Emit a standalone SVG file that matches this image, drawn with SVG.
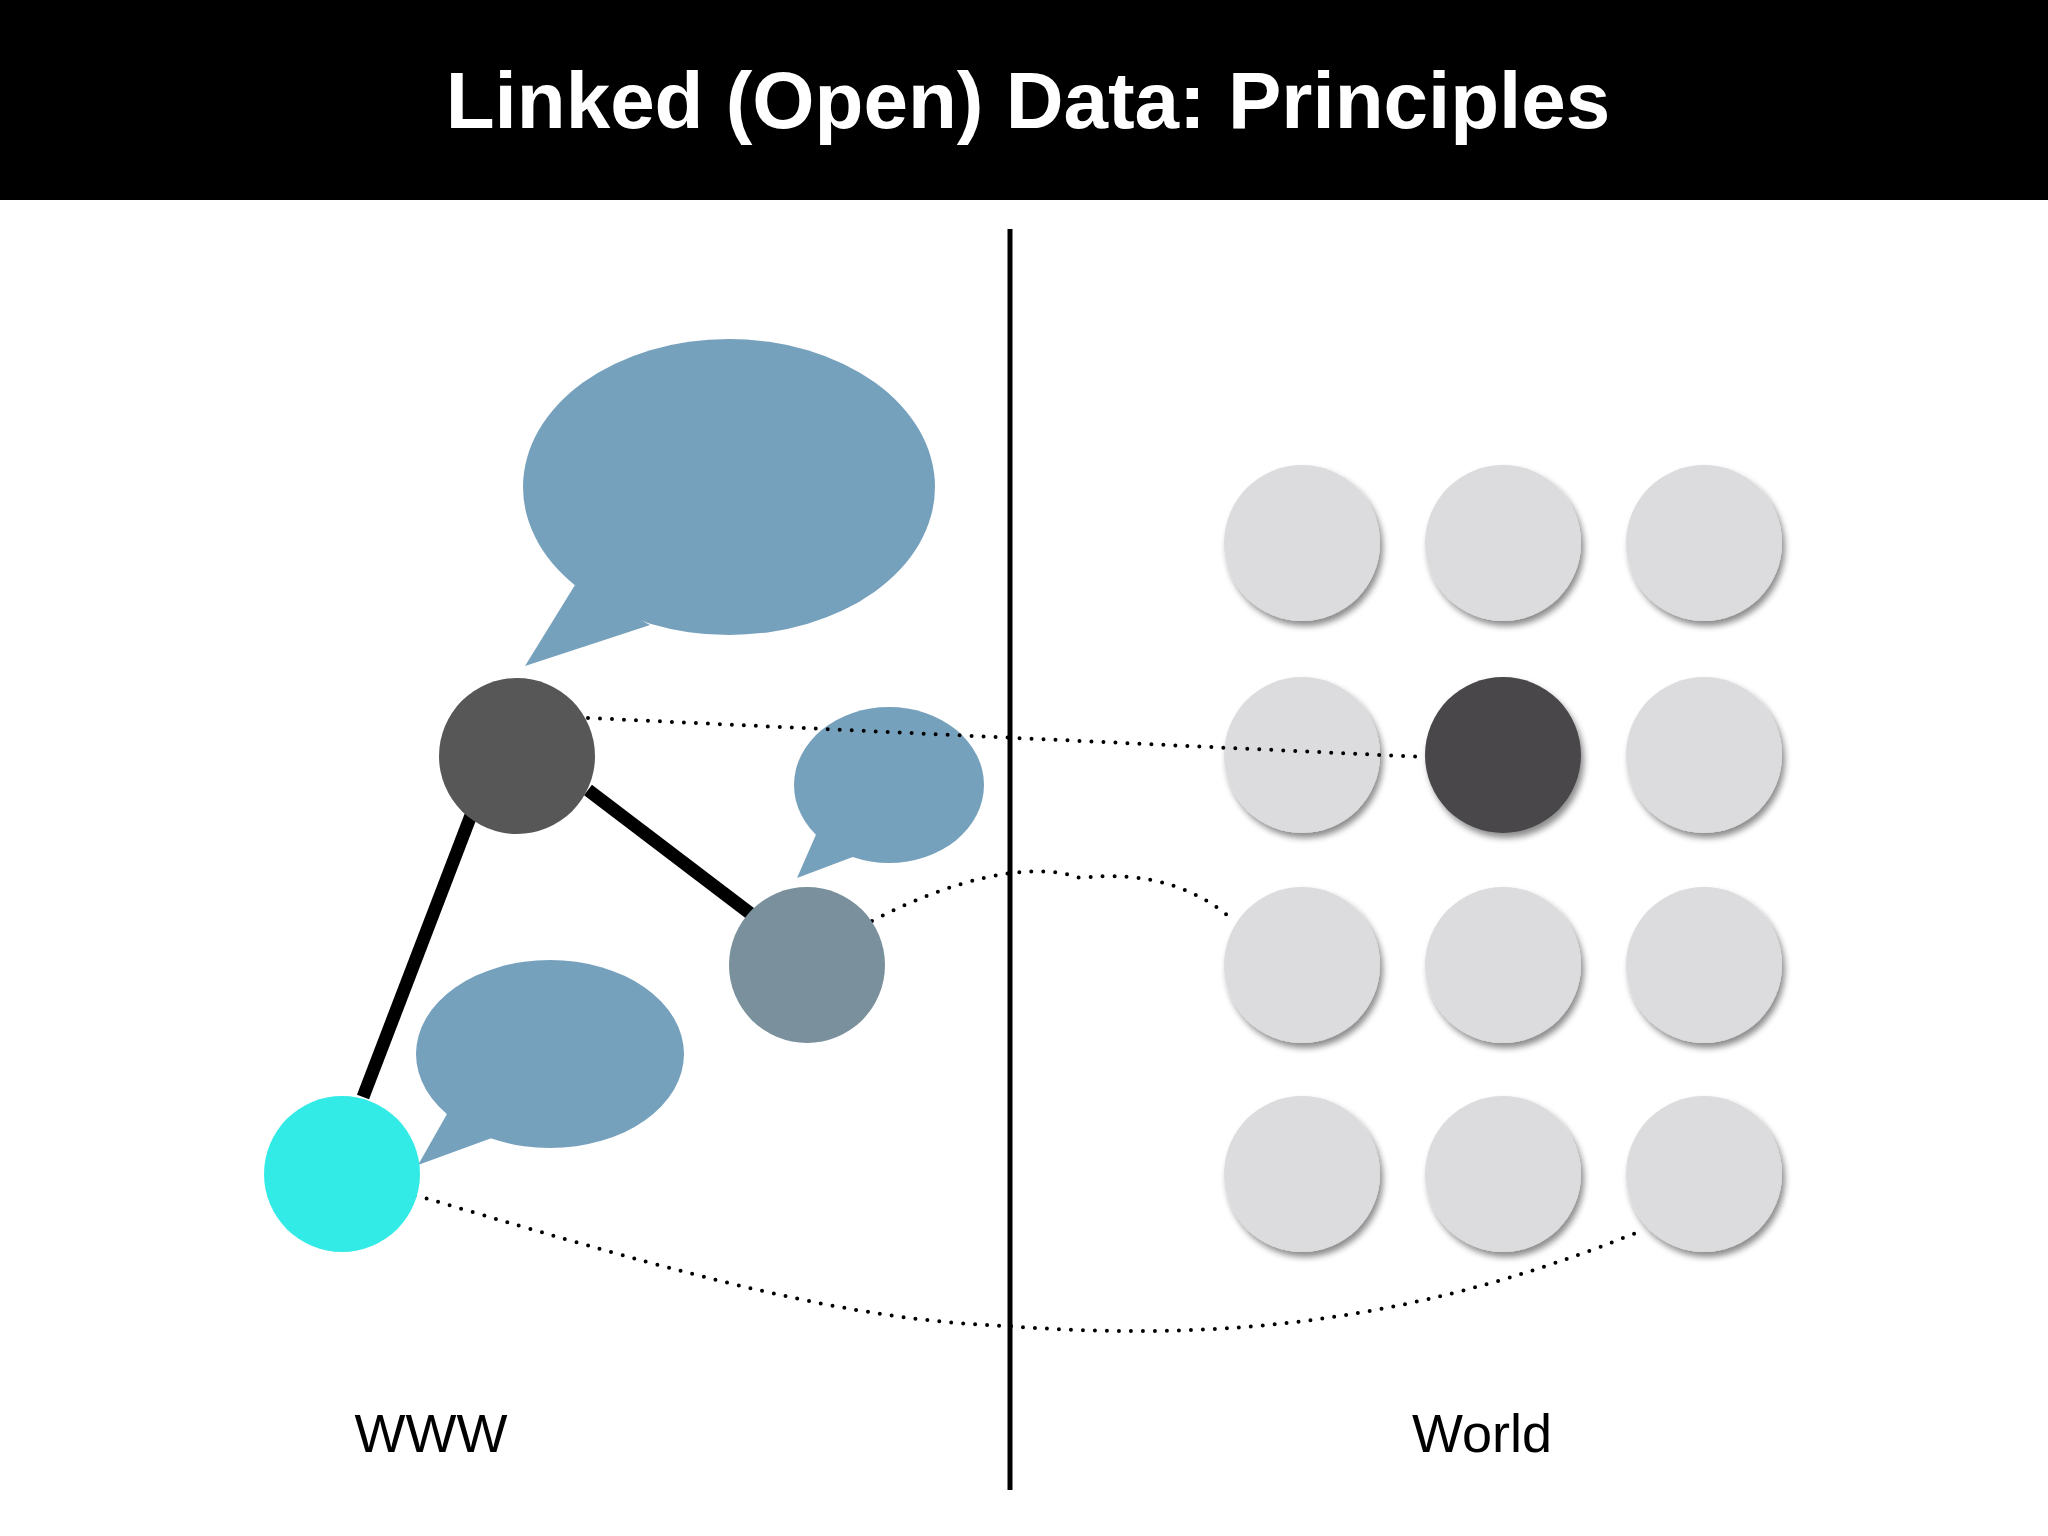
<svg xmlns="http://www.w3.org/2000/svg" width="2048" height="1536" viewBox="0 0 2048 1536">
<defs>
<filter id="sh" x="-30%" y="-30%" width="160%" height="160%"><feDropShadow dx="3" dy="5" stdDeviation="3" flood-color="#000" flood-opacity="0.45"/></filter>
<style>
.bub{fill:#76a1bd}
.cell{fill:#dcdcde;filter:url(#sh)}
.dot{fill:none;stroke:#000;stroke-width:4;stroke-dasharray:0 12;stroke-linecap:round}
.lbl{font-family:"Liberation Sans",Arial,sans-serif;font-size:54px;fill:#000;text-anchor:middle}
</style>
</defs>
<rect width="2048" height="1536" fill="#fff"/>
<rect width="2048" height="200" fill="#000"/>
<text x="1028" y="128" font-family="Liberation Sans,Arial,sans-serif" font-weight="bold" font-size="80" fill="#fff" text-anchor="middle">Linked (Open) Data: Principles</text>
<line x1="1010" y1="229" x2="1010" y2="1490" stroke="#000" stroke-width="5"/>
<g id="bubbles">
<ellipse class="bub" cx="729" cy="487" rx="206" ry="148"/><polygon class="bub" points="575,585 525,666 650,625"/>
<ellipse class="bub" cx="889" cy="785" rx="95" ry="78"/><polygon class="bub" points="818,830 797,878 866,852"/>
<ellipse class="bub" cx="550" cy="1054" rx="134" ry="94"/><polygon class="bub" points="455,1100 418,1165 500,1135"/>
</g>
<g id="grid">
<circle class="cell" cx="1302" cy="543" r="78"/><circle class="cell" cx="1503" cy="543" r="78"/><circle class="cell" cx="1704" cy="543" r="78"/>
<circle class="cell" cx="1302" cy="755" r="78"/><circle cx="1503" cy="755" r="78" fill="#48474a" filter="url(#sh)"/><circle class="cell" cx="1704" cy="755" r="78"/>
<circle class="cell" cx="1302" cy="965" r="78"/><circle class="cell" cx="1503" cy="965" r="78"/><circle class="cell" cx="1704" cy="965" r="78"/>
<circle class="cell" cx="1302" cy="1174" r="78"/><circle class="cell" cx="1503" cy="1174" r="78"/><circle class="cell" cx="1704" cy="1174" r="78"/>
</g>
<g id="connectors">
<line x1="588" y1="790" x2="751" y2="914" stroke="#000" stroke-width="13"/>
<line x1="473" y1="810" x2="363" y2="1097" stroke="#000" stroke-width="13"/>
<path class="dot" d="M588,718 L1424,757"/>
<path class="dot" d="M872,921 C950,880 1030,860 1080,878 C1150,870 1200,890 1234,921"/>
<path class="dot" d="M415,1195 C700,1280 850,1320 1006,1326 C1200,1340 1400,1330 1643,1230"/>
</g>
<g id="nodes">
<circle cx="517" cy="756" r="78" fill="#575757"/>
<circle cx="807" cy="965" r="78" fill="#7a909c"/>
<circle cx="342" cy="1174" r="78" fill="#33ebe6"/>
</g>
<text class="lbl" x="431" y="1452">WWW</text>
<text class="lbl" x="1482" y="1452">World</text>
</svg>
